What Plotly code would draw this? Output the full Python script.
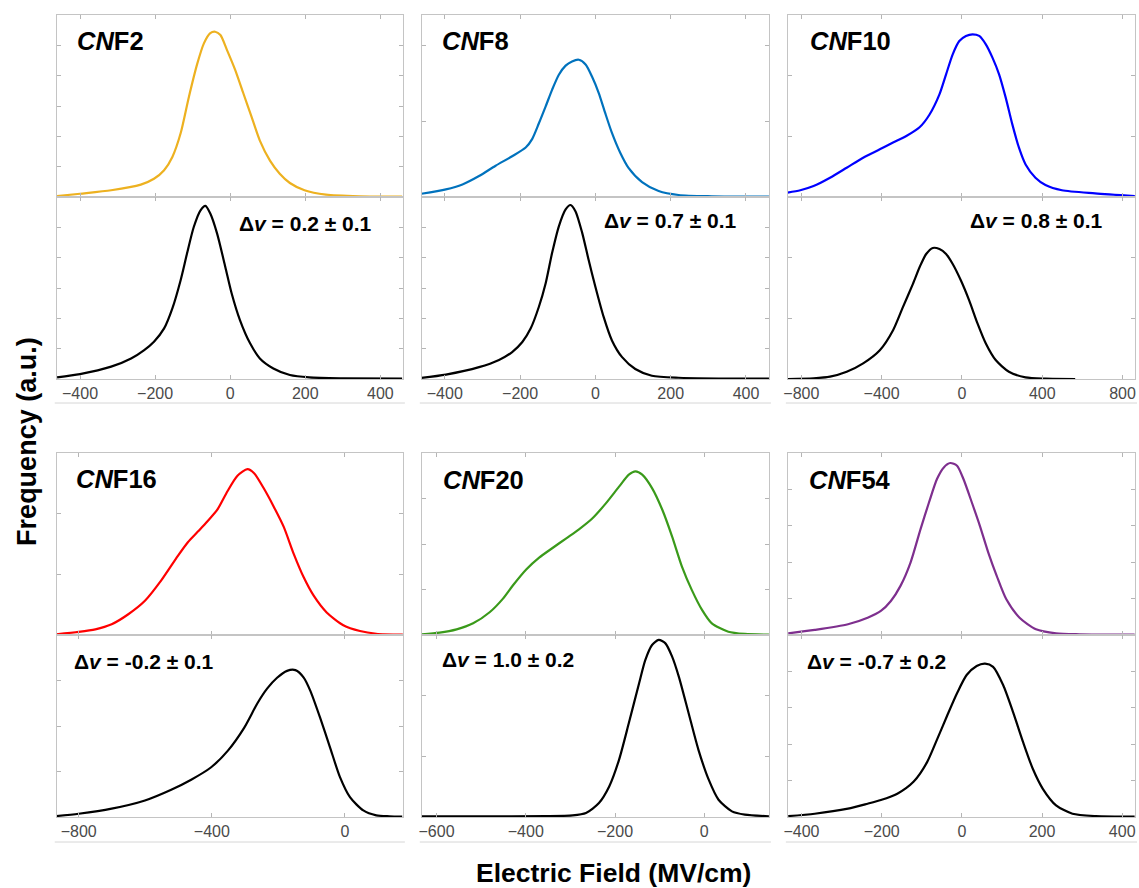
import plotly.graph_objects as go

W, H = 1139, 888

# ---------------- data (Frequency in a.u., normalised to panel height) ----------------
names = ["CNF2", "CNF8", "CNF10", "CNF16", "CNF20", "CNF54"]
dv_labels = ["0.2 ± 0.1", "0.7 ± 0.1", "0.8 ± 0.1", "-0.2 ± 0.1", "1.0 ± 0.2", "-0.7 ± 0.2"]
colors = ["#EDB120", "#0072BD", "#0000FF", "#FF0000", "#3A9A1A", "#7E2F8E"]

cnf2_x = [-461,-400,-317,-238,-203,-176,-154,-132,-110,-88,-70,-53,-40,-26,-9,13,35,57,79,106,132,159,198,255,344,458]
cnf2_y = [0.005,0.018,0.037,0.068,0.10,0.147,0.22,0.35,0.55,0.73,0.844,0.90,0.908,0.89,0.81,0.70,0.57,0.44,0.31,0.20,0.128,0.077,0.037,0.013,0.004,0.002]
cnf2_bx = [-461,-400,-317,-264,-229,-203,-176,-154,-132,-115,-97,-79,-66,-53,-35,-13,4,26,53,79,115,159,211,300,458]
cnf2_by = [0.009,0.027,0.068,0.113,0.159,0.205,0.278,0.388,0.543,0.689,0.835,0.927,0.951,0.909,0.80,0.616,0.47,0.324,0.196,0.113,0.058,0.022,0.009,0.004,0.002]

cnf8_x = [-462,-397,-353,-309,-265,-221,-185,-168,-150,-132,-115,-97,-79,-62,-44,-26,-9,9,26,44,66,88,124,168,221,309,462]
cnf8_y = [0.018,0.042,0.069,0.115,0.172,0.224,0.272,0.318,0.405,0.498,0.589,0.672,0.722,0.745,0.754,0.728,0.662,0.571,0.462,0.352,0.243,0.16,0.082,0.033,0.011,0.004,0.002]
cnf8_bx = [-462,-397,-309,-256,-221,-194,-172,-150,-132,-115,-97,-79,-66,-53,-35,-18,0,22,44,71,106,150,221,462]
cnf8_by = [0.006,0.024,0.065,0.105,0.148,0.203,0.277,0.397,0.526,0.692,0.839,0.932,0.956,0.922,0.803,0.655,0.507,0.341,0.212,0.12,0.055,0.018,0.007,0.002]

cnf10_x = [-868,-805,-739,-657,-574,-492,-409,-343,-277,-211,-162,-112,-79,-46,-13,20,53,86,119,152,185,218,251,284,317,366,416,498,663,861]
cnf10_y = [0.024,0.037,0.06,0.106,0.161,0.216,0.262,0.299,0.335,0.383,0.452,0.564,0.674,0.784,0.857,0.885,0.894,0.885,0.839,0.766,0.674,0.546,0.399,0.271,0.179,0.106,0.066,0.037,0.02,0.005]
cnf10_bx = [-868,-739,-657,-574,-492,-409,-343,-294,-244,-211,-178,-145,-112,-79,-46,-5,36,78,119,168,234,317,416,564]
cnf10_by = [0.0,0.004,0.013,0.04,0.086,0.158,0.268,0.395,0.523,0.614,0.687,0.72,0.714,0.687,0.632,0.541,0.432,0.304,0.195,0.104,0.04,0.009,0.002,0.0]

cnf16_x = [-867,-800,-750,-701,-651,-601,-552,-502,-472,-442,-413,-383,-353,-323,-293,-273,-244,-214,-184,-154,-124,-94,-55,-5,45,94,174]
cnf16_y = [0.004,0.017,0.031,0.059,0.114,0.188,0.30,0.435,0.51,0.568,0.625,0.69,0.79,0.875,0.911,0.889,0.806,0.705,0.594,0.446,0.317,0.216,0.124,0.054,0.022,0.007,0.002]
cnf16_bx = [-867,-800,-701,-601,-522,-462,-403,-353,-303,-263,-234,-204,-174,-149,-124,-104,-75,-45,-15,15,55,94,134,172]
cnf16_by = [0.005,0.018,0.046,0.091,0.150,0.205,0.272,0.362,0.49,0.625,0.705,0.765,0.803,0.807,0.766,0.693,0.547,0.383,0.219,0.109,0.036,0.009,0.004,0.002]

cnf20_x = [-633,-593,-555,-518,-481,-451,-429,-399,-370,-340,-310,-280,-251,-221,-191,-169,-154,-139,-117,-94,-72,-50,-28,-5,17,54,91,145]
cnf20_y = [0.004,0.013,0.031,0.064,0.125,0.2,0.272,0.36,0.425,0.478,0.53,0.582,0.64,0.722,0.815,0.881,0.899,0.881,0.807,0.688,0.541,0.376,0.248,0.138,0.064,0.018,0.006,0.002]
cnf20_bx = [-633,-503,-355,-295,-265,-236,-213,-191,-169,-146,-132,-117,-102,-87,-72,-57,-35,-13,10,32,62,91,145]
cnf20_by = [0.004,0.004,0.005,0.009,0.022,0.077,0.168,0.314,0.516,0.735,0.863,0.945,0.973,0.954,0.881,0.771,0.57,0.369,0.205,0.095,0.031,0.013,0.004]

cnf54_x = [-433,-367,-284,-235,-202,-177,-153,-128,-103,-82,-62,-45,-29,-12,4,25,45,66,87,111,144,185,235,293,431]
cnf54_y = [0.009,0.028,0.059,0.095,0.132,0.187,0.27,0.398,0.582,0.728,0.857,0.921,0.945,0.93,0.857,0.728,0.6,0.453,0.325,0.196,0.095,0.031,0.009,0.004,0.002]
cnf54_bx = [-433,-367,-284,-235,-202,-161,-120,-87,-62,-37,-12,12,37,58,78,103,128,153,177,202,235,276,334,431]
cnf54_by = [0.005,0.018,0.046,0.073,0.093,0.128,0.195,0.30,0.425,0.555,0.68,0.78,0.83,0.843,0.825,0.725,0.575,0.41,0.265,0.155,0.064,0.018,0.005,0.002]

top_x = [cnf2_x, cnf8_x, cnf10_x, cnf16_x, cnf20_x, cnf54_x]
top_y = [cnf2_y, cnf8_y, cnf10_y, cnf16_y, cnf20_y, cnf54_y]
bot_x = [cnf2_bx, cnf8_bx, cnf10_bx, cnf16_bx, cnf20_bx, cnf54_bx]
bot_y = [cnf2_by, cnf8_by, cnf10_by, cnf16_by, cnf20_by, cnf54_by]

x_ranges = [[-462, 460], [-461, 461], [-867, 862], [-866, 174], [-633, 145], [-434, 432]]
x_dticks = [200, 200, 400, 400, 200, 200]
top_ydt = [1/6, 0.416, 1/3, 1/3, 1/4, 1/5]
bot_ydt = [1/6, 1/6, 1/3, 1/4, 1/3, 1/5]

# ---------------- layout geometry (pixels) ----------------
cols = [(52, 400), (419, 768), (787, 1136)]
rows = [(15, 197, 379), (453, 635, 817)]
label_line_y = [403, 842]

def px(x):
    return x / W

def py(y):
    return 1 - y / H

FONT = "Arial, 'Liberation Sans', Helvetica, sans-serif"
FRAME = "#c4c4c4"
TICKC = "#b5b5b5"

fig = go.Figure()
layout = dict(
    width=W, height=H, margin=dict(l=0, r=0, t=0, b=0),
    plot_bgcolor="white", paper_bgcolor="white", showlegend=False,
    font=dict(family=FONT),
)
annotations = []
shapes = []

for p in range(6):
    r, c = divmod(p, 3)
    x0, x1 = cols[c]
    ytop, ydiv, ybot = rows[r]
    for part in range(2):
        k = p * 2 + part + 1
        xs = "" if k == 1 else str(k)
        if part == 0:
            xd, yd = top_x[p], top_y[p]
            col = colors[p]
            ydom = [py(ydiv), py(ytop)]
            ydt = top_ydt[p]
        else:
            xd, yd = bot_x[p], bot_y[p]
            col = "black"
            ydom = [py(ybot), py(ydiv)]
            ydt = bot_ydt[p]
        fig.add_trace(go.Scatter(
            x=xd, y=yd, mode="lines",
            line=dict(color=col, width=2.2, shape="spline", smoothing=0.7),
            xaxis="x" + xs, yaxis="y" + xs, hoverinfo="skip",
        ))
        layout["xaxis" + xs] = dict(
            domain=[px(x0), px(x1)], anchor="y" + xs, range=x_ranges[p],
            tick0=0, dtick=x_dticks[p], ticks="inside", ticklen=4, tickcolor=TICKC,
            showline=True, linecolor=FRAME, linewidth=1, mirror="ticks",
            showgrid=False, zeroline=False,
            showticklabels=(part == 1),
            tickfont=dict(size=16, color="#4a4a4a", family=FONT),
        )
        layout["yaxis" + xs] = dict(
            domain=ydom, anchor="x" + xs, range=[0, 1],
            tick0=0, dtick=ydt, ticks="inside", ticklen=4, tickcolor=TICKC,
            showline=True, linecolor=FRAME, linewidth=1, mirror="ticks",
            showgrid=False, zeroline=False, showticklabels=False,
        )
    # line under the tick labels
    shapes.append(dict(type="line", xref="paper", yref="paper",
                       x0=px(x0 - 2), x1=px(x1 + 2),
                       y0=py(label_line_y[r]), y1=py(label_line_y[r]),
                       line=dict(color="#d6d6d6", width=1)))

# panel names
name_pos = [(70, 41), (437, 41), (807, 41), (69, 479), (438, 480), (806, 480)]
for p in range(6):
    num = names[p][3:]
    annotations.append(dict(
        text="<b><i>CN</i>F" + num + "</b>", x=px(name_pos[p][0]), y=py(name_pos[p][1]),
        xref="paper", yref="paper", xanchor="left", yanchor="middle", showarrow=False,
        font=dict(size=25.5, color="black", family=FONT)))

# Delta v labels
dv_pos = [(233, 224), (600, 220), (968, 221), (67, 661), (437, 659), (804, 661)]
for p in range(6):
    annotations.append(dict(
        text="<b>Δ<i>v</i> = " + dv_labels[p] + "</b>", x=px(dv_pos[p][0]), y=py(dv_pos[p][1]),
        xref="paper", yref="paper", xanchor="left", yanchor="middle", showarrow=False,
        font=dict(size=21, color="black", family=FONT)))

# axis titles
annotations.append(dict(text="<b>Frequency (a.u.)</b>", x=px(22), y=py(441),
                        xref="paper", yref="paper", xanchor="center", yanchor="middle",
                        textangle=-90, showarrow=False,
                        font=dict(size=27, color="black", family=FONT)))
annotations.append(dict(text="<b>Electric Field (MV/cm)</b>", x=px(612), y=py(873),
                        xref="paper", yref="paper", xanchor="center", yanchor="middle",
                        showarrow=False, font=dict(size=26.5, color="black", family=FONT)))

layout["annotations"] = annotations
layout["shapes"] = shapes
fig.update_layout(**layout)
fig.write_html("out.html")
